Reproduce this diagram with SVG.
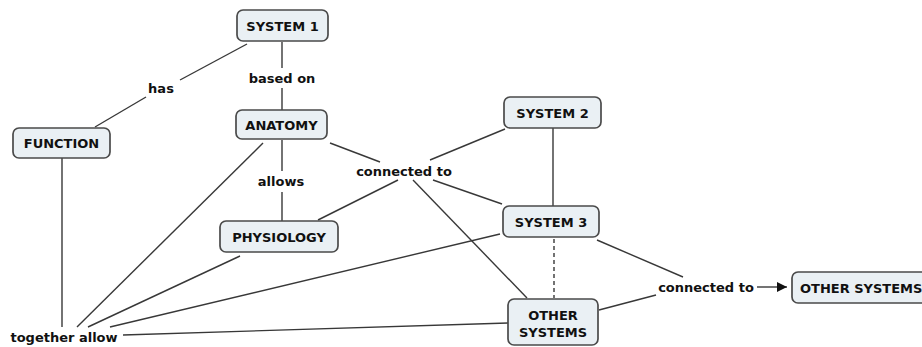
<svg xmlns="http://www.w3.org/2000/svg" width="922" height="347" viewBox="0 0 922 347">
<style>
.node rect{fill:#eaf0f4;stroke:#4a4a4a;stroke-width:1.7}
text{font-family:"DejaVu Sans","Verdana",sans-serif;font-weight:bold;font-size:13px;fill:#111;dominant-baseline:central}
.c{text-anchor:middle}
#connectors line{stroke:#383838;stroke-width:1.4;fill:none}
#connectors .dash{stroke-dasharray:4 3}
</style>
<defs>
<marker id="arr" viewBox="0 0 10 10" refX="10" refY="5" markerWidth="10" markerHeight="10" markerUnits="userSpaceOnUse" orient="auto">
<path d="M0,0 L10,5 L0,10 Z" fill="#111"/>
</marker>
</defs>
<rect width="922" height="347" fill="#fff"/>
<g id="connectors">
<line x1="247" y1="44" x2="180" y2="80"/>
<line x1="146" y1="97" x2="95" y2="127"/>
<line x1="282" y1="42" x2="282" y2="68"/>
<line x1="282" y1="88" x2="282" y2="110"/>
<line x1="282" y1="140" x2="282" y2="171"/>
<line x1="282" y1="192" x2="282" y2="221"/>
<line x1="330" y1="143" x2="380" y2="162"/>
<line x1="505" y1="129" x2="430" y2="160"/>
<line x1="398" y1="180" x2="318" y2="220"/>
<line x1="433" y1="180" x2="502" y2="204"/>
<line x1="413" y1="180" x2="527" y2="298"/>
<line x1="553" y1="128" x2="553" y2="206"/>
<line class="dash" x1="554" y1="239" x2="554" y2="298"/>
<line x1="597" y1="240" x2="683" y2="277"/>
<line x1="599" y1="310" x2="656" y2="295"/>
<line x1="757" y1="287" x2="787" y2="287" marker-end="url(#arr)"/>
<line x1="62" y1="158" x2="62" y2="327"/>
<line x1="263" y1="143" x2="77" y2="327"/>
<line x1="240" y1="256" x2="88" y2="327"/>
<line x1="500" y1="234" x2="110" y2="327"/>
<line x1="123" y1="335" x2="508" y2="323"/>
</g>
<g id="system1" class="node"><rect x="237" y="10" width="91" height="31" rx="6"/><text class="c" x="282.5" y="26">SYSTEM 1</text></g>
<g id="anatomy" class="node"><rect x="236" y="110" width="91" height="29" rx="6"/><text class="c" x="281.5" y="125">ANATOMY</text></g>
<g id="function" class="node"><rect x="13" y="128" width="97" height="30" rx="6"/><text class="c" x="61.5" y="143">FUNCTION</text></g>
<g id="system2" class="node"><rect x="504" y="97" width="97" height="31" rx="6"/><text class="c" x="552.5" y="113">SYSTEM 2</text></g>
<g id="system3" class="node"><rect x="503" y="206" width="96" height="31" rx="6"/><text class="c" x="551" y="222">SYSTEM 3</text></g>
<g id="physiology" class="node"><rect x="220" y="221" width="118" height="31" rx="6"/><text class="c" x="279" y="237">PHYSIOLOGY</text></g>
<g id="other-systems-center" class="node"><rect x="508" y="299" width="90" height="46" rx="6"/><text class="c" x="553" y="315">OTHER</text><text class="c" x="553" y="332">SYSTEMS</text></g>
<g id="other-systems-right" class="node"><rect x="792" y="272" width="140" height="31" rx="6"/><text x="800" y="288">OTHER SYSTEMS</text></g>
<g id="labels">
<text class="c" x="161" y="88">has</text>
<text class="c" x="282" y="78">based on</text>
<text class="c" x="281" y="181">allows</text>
<text class="c" x="404" y="171">connected to</text>
<text class="c" x="64" y="337">together allow</text>
<text class="c" x="706" y="287">connected to</text>
</g>
</svg>
